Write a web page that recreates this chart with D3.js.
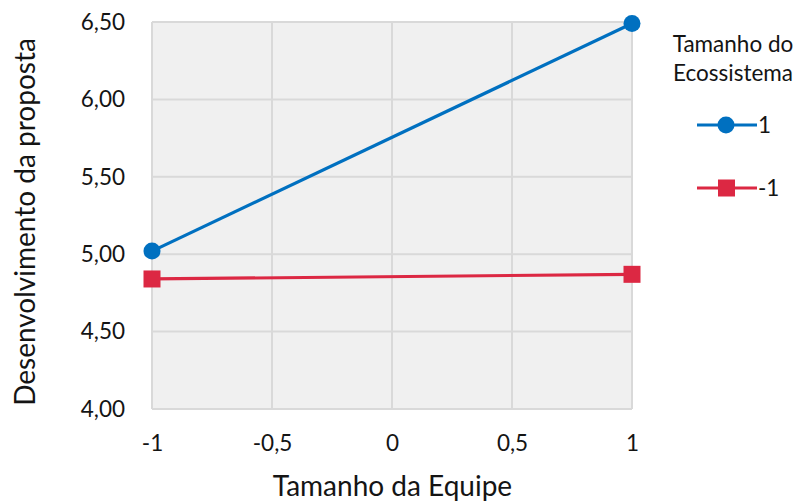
<!DOCTYPE html>
<html>
<head>
<meta charset="utf-8">
<script src="https://cdn.jsdelivr.net/npm/d3@7"></script>
<style>
  html, body { margin: 0; padding: 0; background: #fff; }
  svg { display: block; font-family: Lato, "Open Sans", sans-serif; }
</style>
</head>
<body>
<svg id="chart" width="797" height="503"></svg>
<script>
// Interaction plot: team size vs. proposal development, by ecosystem size
const xValues = [-1, 1];
const seriesNames = ["1", "-1"];
const seriesHigh = [5.02, 6.49];   // Ecossistema = 1
const seriesLow = [4.84, 4.87];    // Ecossistema = -1
const xTicks = [-1, -0.5, 0, 0.5, 1];
const yTicks = [4.0, 4.5, 5.0, 5.5, 6.0, 6.5];
const colors = ["#0070c0", "#dc2843"];

const svg = d3.select("#chart");
const m = { left: 152, right: 165, top: 22, bottom: 94 };
const W = 797, H = 503;
const iw = W - m.left - m.right, ih = H - m.top - m.bottom;
const textColor = "#141414";

const x = d3.scaleLinear().domain([-1, 1]).range([0, iw]);
const y = d3.scaleLinear().domain([4, 6.5]).range([ih, 0]);

const fmtY = v => d3.format(".2f")(v).replace(".", ",");
const fmtX = v => String(v).replace(".", ",");

const g = svg.append("g").attr("transform", `translate(${m.left},${m.top})`);

g.append("rect").attr("width", iw).attr("height", ih).attr("fill", "#f0f0f0");

// gridlines
g.append("g").selectAll("line").data(yTicks).join("line")
  .attr("x1", 0).attr("x2", iw)
  .attr("y1", d => y(d)).attr("y2", d => y(d))
  .attr("stroke", "#d9d9d9").attr("stroke-width", 2);
g.append("g").selectAll("line").data(xTicks).join("line")
  .attr("y1", 0).attr("y2", ih)
  .attr("x1", d => x(d)).attr("x2", d => x(d))
  .attr("stroke", "#d9d9d9").attr("stroke-width", 2);

// axes (labels only)
const yAxis = g.append("g").call(d3.axisLeft(y).tickValues(yTicks).tickFormat(fmtY).tickSize(0).tickPadding(27));
yAxis.select(".domain").remove();
yAxis.selectAll("text").attr("font-size", 22.5).attr("fill", textColor).style("font-family", "Lato, sans-serif");

const xAxis = g.append("g").attr("transform", `translate(0,${ih})`)
  .call(d3.axisBottom(x).tickValues(xTicks).tickFormat(fmtX).tickSize(0).tickPadding(26));
xAxis.select(".domain").remove();
xAxis.selectAll("text").attr("font-size", 22.5).attr("fill", textColor).style("font-family", "Lato, sans-serif");

// axis titles
svg.append("text").attr("x", m.left + iw / 2 + 0.5).attr("y", 496)
  .attr("text-anchor", "middle").attr("font-size", 28).attr("fill", textColor)
  .text("Tamanho da Equipe");
svg.append("text").attr("transform", `translate(35,222) rotate(-90)`)
  .attr("text-anchor", "middle").attr("font-size", 28).attr("fill", textColor)
  .text("Desenvolvimento da proposta");

// series
const series = [seriesHigh, seriesLow];
const line = d3.line().x((d, i) => x(xValues[i])).y(d => y(d));
series.forEach((vals, s) => {
  g.append("path").datum(vals).attr("d", line)
    .attr("fill", "none").attr("stroke", colors[s]).attr("stroke-width", 3.2);
  if (s === 0) {
    g.selectAll(null).data(vals).join("circle")
      .attr("cx", (d, i) => x(xValues[i])).attr("cy", d => y(d))
      .attr("r", 8.5).attr("fill", colors[s]);
  } else {
    g.selectAll(null).data(vals).join("rect")
      .attr("x", (d, i) => x(xValues[i]) - 8.5).attr("y", d => y(d) - 8.5)
      .attr("width", 17).attr("height", 17).attr("fill", colors[s]);
  }
});

// legend
const lg = svg.append("g");
lg.append("text").attr("x", 733).attr("y", 52).attr("text-anchor", "middle")
  .attr("font-size", 22.5).attr("fill", textColor).text("Tamanho do");
lg.append("text").attr("x", 733).attr("y", 81).attr("text-anchor", "middle")
  .attr("font-size", 22.5).attr("fill", textColor).text("Ecossistema");
const legendY = [125, 188];
seriesNames.forEach((name, s) => {
  const yy = legendY[s];
  lg.append("line").attr("x1", 697).attr("x2", 757).attr("y1", yy).attr("y2", yy)
    .attr("stroke", colors[s]).attr("stroke-width", 3.2);
  if (s === 0) lg.append("circle").attr("cx", 726).attr("cy", yy).attr("r", 8.5).attr("fill", colors[s]);
  else lg.append("rect").attr("x", 718).attr("y", yy - 8.5).attr("width", 17).attr("height", 17).attr("fill", colors[s]);
  lg.append("text").attr("x", 758).attr("y", yy + 8).attr("font-size", 22.5).attr("fill", textColor).text(name);
});
</script>
</body>
</html>
